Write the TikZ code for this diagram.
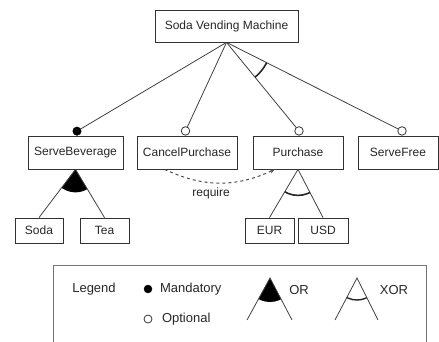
\documentclass[tikz,border=0pt]{standalone}
\usepackage{fontspec}
\setmainfont{Liberation Sans}
\usetikzlibrary{arrows.meta}

\begin{document}
\begin{tikzpicture}[x=1pt,y=1pt,
    feature/.style={draw=black!80,line width=0.8pt,minimum height=33pt,inner sep=2pt,font=\fontsize{12}{14}\selectfont,text=black!85},
    leaf/.style={feature,minimum height=25pt},
    mand/.style={circle,fill=black,draw=black,inner sep=0pt,minimum size=8.5pt},
    opt/.style={circle,fill=white,draw=black!80,line width=0.8pt,inner sep=0pt,minimum size=8.5pt},
    conn/.style={draw=black!75,line width=0.8pt},
    legtext/.style={font=\fontsize{13}{15}\selectfont,text=black!85}]
  \useasboundingbox (0,0) rectangle (439,341);
  \clip (0,0) rectangle (439,341);
  % root feature
  \node[feature,minimum width=143pt,minimum height=32pt] (svm) at (226.5,315) {Soda Vending Machine};
  % sub features
  \node[feature,minimum width=95pt] (serve) at (75.5,188.5) {ServeBeverage};
  \node[feature,minimum width=100pt] (cancel) at (187,188.5) {CancelPurchase};
  \node[feature,minimum width=90pt] (purchase) at (298,188.5) {Purchase};
  \node[feature,minimum width=80pt] (free) at (398,188.5) {ServeFree};
  \node[leaf,minimum width=48pt] (soda) at (39,110.5) {Soda};
  \node[leaf,minimum width=49pt] (tea) at (104.5,110.5) {Tea};
  \node[leaf,minimum width=49pt] (eur) at (269.5,110.5) {EUR};
  \node[leaf,minimum width=50pt] (usd) at (323,110.5) {USD};
  % mandatory / optional ends
  \node[mand,anchor=south] (mServe) at ([xshift=1.5pt]serve.north) {};
  \node[opt,anchor=south] (oCancel) at ([xshift=-1.5pt]cancel.north) {};
  \node[opt,anchor=south] (oPurchase) at ([xshift=1pt]purchase.north) {};
  \node[opt,anchor=south] (oFree) at ([xshift=4pt]free.north) {};
  \foreach \c in {mServe,oCancel,oPurchase,oFree}
    \draw[conn] (svm.south) -- (\c);
  \begin{scope}
    \clip (svm.south) -- (oPurchase.center) -- (oFree.center) -- cycle;
    \draw[line width=1.6pt,black!85] (svm.south) circle[radius=45];
  \end{scope}
  % OR group
  \begin{scope}
    \clip (serve.south) -- (soda.north) -- (tea.north) -- cycle;
    \fill[black] (serve.south) circle[radius=23];
  \end{scope}
  \foreach \c in {soda,tea}
    \draw[conn] (serve.south) -- (\c.north);
  % XOR group
  \begin{scope}
    \clip (purchase.south) -- (eur.north) -- (usd.north) -- cycle;
    \draw[line width=1.6pt,black!85] (purchase.south) circle[radius=26];
  \end{scope}
  \foreach \c in {eur,usd}
    \draw[conn] (purchase.south) -- (\c.north);
  % constraint
  \draw[dashed,black!70,line width=1pt,-{Stealth[length=5pt,width=4pt]}] (cancel.-143) to[bend right=25]
    node[below=1pt,pos=0.42,font=\fontsize{12}{14}\selectfont,text=black!85] (req) {require} (purchase.-144);
  % legend
  \draw[black!55,line width=0.8pt] (53,76) rectangle (426,-30);
  \node[legtext] (legend) at (94,52) {Legend};
  \node[mand,minimum size=8pt] (mKey) at (148,52) {};
  \node[legtext,anchor=west] (mandatory) at (156.5,52) {Mandatory};
  \node[opt,minimum size=8pt] (oKey) at (148,22) {};
  \node[legtext,anchor=west] (optional) at (158.5,22) {Optional};
  \coordinate (orTop) at (270,63);
  \coordinate (orL) at (247,21);
  \coordinate (orR) at (292,21);
  \begin{scope}
    \clip (orTop) -- (orL) -- (orR) -- cycle;
    \fill[black] (orTop) circle[radius=24];
  \end{scope}
  \draw[conn] (orL) -- (orTop) -- (orR);
  \node[legtext] (orText) at (299,51) {OR};
  \coordinate (xorTop) at (357,63);
  \coordinate (xorL) at (335,21);
  \coordinate (xorR) at (378,21);
  \begin{scope}
    \clip (xorTop) -- (xorL) -- (xorR) -- cycle;
    \draw[line width=1.4pt,black!85] (xorTop) circle[radius=22];
  \end{scope}
  \draw[conn] (xorL) -- (xorTop) -- (xorR);
  \node[legtext] (xorText) at (394,51) {XOR};
\end{tikzpicture}
\end{document}
